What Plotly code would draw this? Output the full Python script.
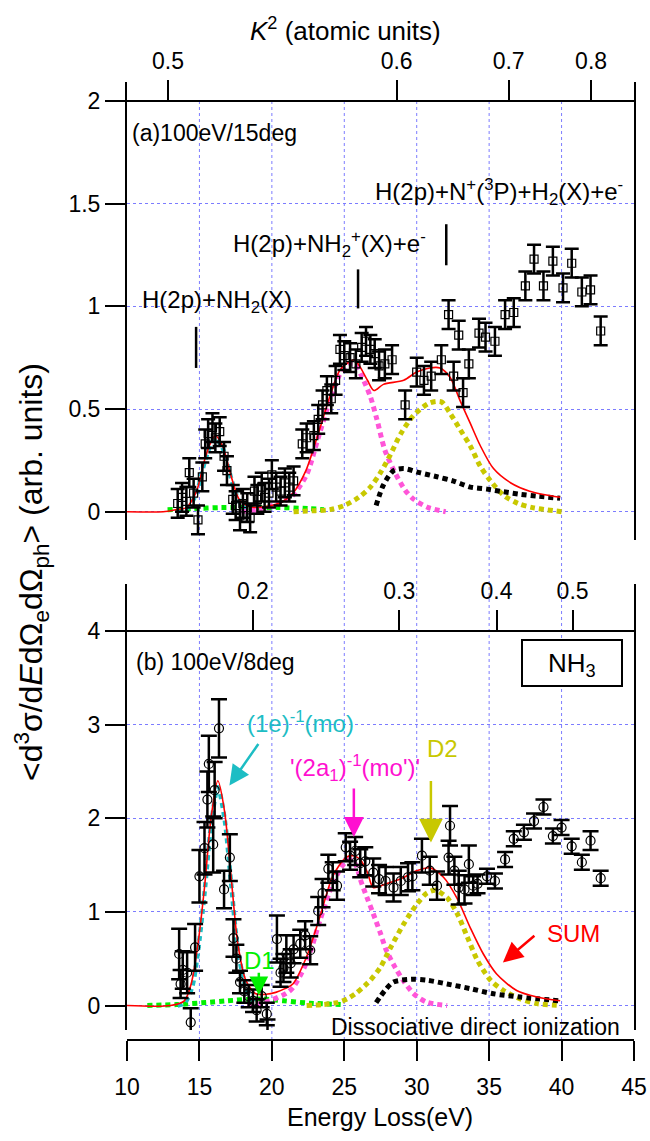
import numpy as np
import plotly.graph_objects as go

W, H = 650, 1141

# ---------------- panel (a) 100 eV / 15 deg : measured points ----------------
a_E = [13.5, 13.8, 14.1, 14.3, 14.6, 14.9, 15.2, 15.4, 15.6, 15.9, 16.1, 16.4, 16.7, 16.9,
       17.3, 17.5, 17.8, 18.0, 18.3, 18.5, 18.8, 19.0, 19.3, 19.5, 19.8, 20.0, 20.3, 20.6,
       20.9, 21.2, 21.5, 22.1, 22.4, 22.9, 23.2, 23.5, 23.8, 24.1, 24.4, 24.7, 25.0, 25.4,
       25.8, 26.2, 26.5, 26.8, 27.1, 27.4, 27.8, 28.3, 29.2, 30.0, 30.5, 31.0, 31.7, 32.2,
       32.55, 32.9, 33.2, 33.6, 34.3, 34.75, 35.4, 36.1, 36.7, 37.5, 38.1, 38.75, 39.4,
       40.1, 40.7, 41.4, 42.0, 42.7]
a_I = [0.04, 0.07, 0.05, 0.19, 0.09, -0.04, 0.17, 0.33, 0.38, 0.41, 0.36, 0.39, 0.27, 0.20,
       0.06, 0.03, -0.02, 0.04, 0.02, -0.03, 0.10, 0.06, 0.12, 0.07, 0.09, 0.18, 0.12, 0.10,
       0.14, 0.12, 0.15, 0.33, 0.36, 0.37, 0.45, 0.52, 0.59, 0.55, 0.64, 0.79, 0.76, 0.75,
       0.72, 0.80, 0.83, 0.79, 0.77, 0.71, 0.72, 0.74, 0.52, 0.68, 0.64, 0.66, 0.74, 0.96,
       0.66, 0.86, 0.58, 0.72, 0.87, 0.85, 0.83, 0.96, 0.97, 1.10, 1.23, 1.10, 1.22,
       1.09, 1.21, 1.07, 1.08, 0.88]
a_err = [0.07] * len(a_E)

# fitted curves, panel (a)
a_sum_E = [10.0, 12.5, 13.4, 14.1, 14.8, 15.35, 15.8, 16.1, 16.6, 17.2, 17.75, 18.4, 19.6, 20.75,
           21.45, 22.35, 23.2, 24.0, 24.7, 25.35, 25.7, 26.05, 26.6, 27.05, 27.7, 29.1, 30.0,
           30.9, 31.6, 32.3, 33.0, 33.7, 34.4, 35.3, 36.5, 37.8, 39.9]
a_sum_I = [0.0, 0.0, 0.01, 0.02, 0.10, 0.25, 0.34, 0.37, 0.32, 0.17, 0.06, 0.025, 0.025, 0.05,
           0.09, 0.20, 0.38, 0.56, 0.69, 0.73, 0.74, 0.71, 0.64, 0.59, 0.62, 0.64, 0.68,
           0.70, 0.70, 0.655, 0.54, 0.43, 0.32, 0.21, 0.14, 0.10, 0.07]
a_1e_E = [13.5, 14.2, 14.8, 15.35, 15.8, 16.1, 16.6, 17.2, 17.75, 18.3, 18.8]
a_1e_I = [0.0, 0.02, 0.09, 0.24, 0.33, 0.36, 0.31, 0.16, 0.05, 0.01, 0.0]
a_d1_E = [12.8, 14.5, 16.5, 18.5, 20.5, 22.5, 23.6]
a_d1_I = [0.01, 0.015, 0.02, 0.02, 0.02, 0.015, 0.01]
a_2a1_E = [17.9, 19.0, 20.0, 20.8, 21.45, 22.4, 23.2, 24.0, 24.7, 25.3, 25.7, 26.2, 26.8,
           27.25, 27.8, 28.5, 29.2, 29.8, 30.8, 32.0]
a_2a1_I = [0.0, 0.01, 0.03, 0.05, 0.08, 0.18, 0.36, 0.54, 0.67, 0.72, 0.72, 0.66, 0.56,
           0.45, 0.30, 0.19, 0.105, 0.06, 0.02, 0.0]
a_d2_E = [21.5, 23.0, 24.0, 25.0, 26.0, 26.8, 27.5, 28.2, 28.9, 29.8, 30.9, 31.7, 32.3, 33.0,
          33.7, 34.4, 35.1, 36.0, 37.0, 38.0, 40.0]
a_d2_I = [0.0, 0.005, 0.01, 0.03, 0.07, 0.12, 0.19, 0.28, 0.38, 0.47, 0.53, 0.535, 0.48, 0.40,
          0.32, 0.22, 0.15, 0.08, 0.04, 0.02, 0.0]
a_ddi_E = [27.2, 27.7, 28.4, 29.1, 30.2, 31.4, 32.5, 33.7, 34.85, 36.0, 37.15, 38.3, 39.9]
a_ddi_I = [0.03, 0.13, 0.20, 0.21, 0.19, 0.17, 0.15, 0.12, 0.11, 0.097, 0.085, 0.076, 0.065]

# dissociation thresholds marked in panel (a)
thr_E = [14.77, 25.95, 32.04]

# ---------------- panel (b) 100 eV / 8 deg : measured points ----------------
b_E = [13.6, 13.7, 13.85, 14.15, 14.4, 14.7, 15.0, 15.35, 15.55, 15.65, 15.95, 16.05, 16.35,
       16.7, 17.1, 17.35, 17.55, 17.8, 18.1, 18.4, 18.7, 18.95, 19.3, 19.65, 19.7, 20.35,
       20.6, 20.8, 21.0, 21.3, 21.5, 21.96, 22.3, 22.65, 23.2, 23.5, 23.9, 24.2, 24.5, 25.1,
       25.4, 25.75, 26.1, 26.45, 27.0, 27.4, 27.85, 28.4, 28.9, 29.4, 29.7, 30.36, 30.9,
       31.4, 32.2, 32.3, 32.6, 32.9, 33.3, 33.6, 33.9, 34.2, 34.85, 35.4, 36.1, 36.7, 37.4,
       38.1, 38.75, 39.4, 40.0, 40.7, 41.4, 42.0, 42.7]
b_I = [0.55, 0.23, 0.38, 0.35, -0.18, 0.62, 1.38, 1.68, 2.20, 2.58, 1.72, 2.30, 2.96,
       1.24, 1.58, 0.72, 0.50, 0.25, 0.15, 0.10, 0.05, -0.05, 0.10, -0.09, -0.27, 0.71,
       0.35, 0.40, 0.55, 0.45, 0.60, 0.66, 0.75, 0.59, 1.01, 1.20, 1.46, 1.38, 1.28, 1.69,
       1.60, 1.65, 1.52, 1.54, 1.42, 1.35, 1.33, 1.26, 1.33, 1.37, 1.38, 1.60, 1.44,
       1.28, 1.58, 1.92, 1.44, 1.26, 1.24, 1.51, 1.28, 1.30, 1.38, 1.33, 1.56, 1.78, 1.85,
       1.97, 2.12, 1.81, 1.90, 1.70, 1.53, 1.76, 1.36]
b_err = [0.27, 0.15, 0.20, 0.22, 0.15, 0.25, 0.28, 0.28, 0.30, 0.30, 0.30, 0.30, 0.31,
         0.20, 0.25, 0.20, 0.15, 0.12, 0.12, 0.12, 0.12, 0.12, 0.12, 0.12, 0.12, 0.25,
         0.15, 0.15, 0.20, 0.15, 0.15, 0.15, 0.15, 0.15, 0.15, 0.15, 0.15, 0.15, 0.15, 0.15,
         0.15, 0.15, 0.15, 0.15, 0.15, 0.15, 0.15, 0.15, 0.15, 0.15, 0.15, 0.18, 0.15,
         0.15, 0.18, 0.21, 0.15, 0.18, 0.15, 0.20, 0.10, 0.10, 0.08, 0.08, 0.08, 0.08, 0.08,
         0.08, 0.08, 0.08, 0.08, 0.08, 0.08, 0.10, 0.08]

# fitted curves, panel (b)
b_sum_E = [10.0, 13.0, 13.96, 14.43, 14.9, 15.35, 15.8, 16.27, 16.73, 17.19, 17.65, 18.2, 18.9,
           19.6, 20.27, 20.9, 21.45, 22.37, 23.3, 24.2, 25.1, 25.6, 26.1, 26.6, 27.0, 27.7,
           28.86, 30.0, 30.93, 31.85, 32.77, 33.7, 34.6, 35.5, 36.9, 38.3, 39.9]
b_sum_I = [0.0, 0.0, 0.05, 0.23, 0.66, 1.26, 2.00, 2.40, 2.08, 1.37, 0.66, 0.27, 0.125,
           0.12, 0.14, 0.18, 0.23, 0.51, 0.94, 1.38, 1.58, 1.60, 1.56, 1.42, 1.26, 1.29,
           1.35, 1.44, 1.47, 1.37, 1.15, 0.83, 0.55, 0.34, 0.16, 0.09, 0.05]
b_1e_E = [13.5, 14.0, 14.5, 14.9, 15.35, 15.8, 16.27, 16.73, 17.19, 17.65, 18.2, 18.7, 19.2]
b_1e_I = [0.0, 0.03, 0.20, 0.58, 1.20, 1.92, 2.33, 2.00, 1.30, 0.60, 0.20, 0.05, 0.0]
b_d1_E = [11.4, 13.4, 15.7, 16.9, 19.2, 20.8, 22.6, 24.9]
b_d1_I = [0.0, 0.01, 0.035, 0.05, 0.07, 0.05, 0.025, 0.01]
b_2a1_E = [18.3, 19.2, 20.0, 21.0, 21.45, 22.4, 23.3, 24.2, 25.0, 25.4, 25.8, 26.1, 26.55,
           27.0, 27.5, 27.9, 28.5, 29.1, 29.8, 30.7, 32.1]
b_2a1_I = [0.0, 0.02, 0.06, 0.13, 0.19, 0.46, 0.90, 1.30, 1.52, 1.56, 1.50, 1.35, 1.16,
           0.98, 0.77, 0.59, 0.41, 0.26, 0.125, 0.035, 0.0]
b_d2_E = [22.4, 23.5, 24.5, 25.2, 25.8, 26.4, 26.8, 27.5, 28.2, 29.1, 30.0, 30.7, 31.3, 32.1,
          32.8, 33.5, 34.2, 35.1, 36.0, 37.15, 38.3, 39.9]
b_d2_I = [0.0, 0.01, 0.03, 0.07, 0.13, 0.21, 0.27, 0.41, 0.62, 0.87, 1.08, 1.20, 1.23, 1.15,
          0.98, 0.73, 0.48, 0.27, 0.16, 0.07, 0.02, 0.0]
b_ddi_E = [27.2, 27.8, 28.4, 29.6, 30.7, 32.1, 33.7, 35.3, 37.15, 39.9]
b_ddi_I = [0.03, 0.16, 0.25, 0.28, 0.27, 0.23, 0.18, 0.125, 0.09, 0.05]

# axis ticks
E_ticks = [10, 15, 20, 25, 30, 35, 40, 45]
a_yticks = [0, 0.5, 1, 1.5, 2]
b_yticks = [0, 1, 2, 3, 4]
a_K2_ticks = [0.5, 0.6, 0.7, 0.8]
b_K2_ticks = [0.2, 0.3, 0.4, 0.5]
E0 = 100.0          # impact energy (eV)
theta_a, theta_b = 15.0, 8.0   # scattering angles (deg)


def K2_to_E(K2, theta_deg):
    """energy loss (eV) giving squared momentum transfer K2 (a.u.) at angle theta"""
    hartree = 27.2114
    k0 = np.sqrt(2 * E0 / hartree)
    th = np.radians(theta_deg)
    k1 = k0 * np.cos(th) - np.sqrt(K2 - (k0 * np.sin(th)) ** 2)
    return float(E0 - k1 ** 2 * hartree / 2)


# ---------------- geometry helpers (pixel -> paper) ----------------
def PX(x):
    return x / W


def PY(y):
    return 1 - y / H


XD = [PX(127), PX(634)]
a_ppu = (511.7 - 101) / 2.0
a_rng = [-(540 - 511.7) / a_ppu, 2 + (101 - 82) / a_ppu]
b_ppu = (1005.5 - 631) / 4.0
b_rng = [-(1030 - 1005.5) / b_ppu, 4 + (631 - 584) / b_ppu]

FONT = "Liberation Sans, Arial, sans-serif"
CYAN = "#1DBDC4"
GREEN = "#00F000"
PINK = "#FF55D8"
MAGENTA = "#FF10D0"
OLIVE = "#C8C800"
RED = "#FF0000"
GRID = "#7C7CFF"
DOT = "5px,4px"

fig = go.Figure()


def curve(x, y, color, ax, ay, width=5, dash=DOT):
    fig.add_trace(go.Scatter(x=x, y=y, mode="lines", xaxis=ax, yaxis=ay,
                             line=dict(color=color, width=width, dash=dash,
                                       shape="spline", smoothing=0.8),
                             hoverinfo="skip", showlegend=False))


# panel (a)
curve(a_d1_E, a_d1_I, GREEN, "x", "y")
curve(a_1e_E, a_1e_I, CYAN, "x", "y", width=4.5)
curve(a_2a1_E, a_2a1_I, PINK, "x", "y")
curve(a_d2_E, a_d2_I, OLIVE, "x", "y")
curve(a_ddi_E, a_ddi_I, "black", "x", "y")
curve(a_sum_E, a_sum_I, RED, "x", "y", width=1.6, dash="solid")
fig.add_trace(go.Scatter(x=a_E, y=a_I, mode="markers", xaxis="x", yaxis="y",
                         marker=dict(symbol="square-open", size=8, color="black",
                                     line=dict(width=1.2, color="black")),
                         error_y=dict(type="data", array=a_err, color="black",
                                      thickness=2.5, width=7),
                         cliponaxis=False, showlegend=False))

# panel (b)
curve(b_d1_E, b_d1_I, GREEN, "x2", "y2")
curve(b_1e_E, b_1e_I, CYAN, "x2", "y2", width=4.5)
curve(b_2a1_E, b_2a1_I, PINK, "x2", "y2")
curve(b_d2_E, b_d2_I, OLIVE, "x2", "y2")
curve(b_ddi_E, b_ddi_I, "black", "x2", "y2")
curve(b_sum_E, b_sum_I, RED, "x2", "y2", width=1.6, dash="solid")
fig.add_trace(go.Scatter(x=b_E, y=b_I, mode="markers", xaxis="x2", yaxis="y2",
                         marker=dict(symbol="circle-open", size=9, color="black",
                                     line=dict(width=1.2, color="black")),
                         error_y=dict(type="data", array=b_err, color="black",
                                      thickness=2.5, width=8),
                         cliponaxis=False, showlegend=False))

# invisible carriers so that the two K^2 axes are drawn
for xa, ya in (("x3", "y"), ("x4", "y2")):
    fig.add_trace(go.Scatter(x=[10, 45], y=[-50, -50], mode="markers", xaxis=xa, yaxis=ya,
                             marker=dict(opacity=0), hoverinfo="skip", showlegend=False))

tickfont = dict(family=FONT, size=23, color="black")
common_y = dict(ticks="outside", ticklen=20, tickwidth=2, tickcolor="black",
                showline=True, linewidth=2, linecolor="black", mirror=True,
                showgrid=True, gridcolor=GRID, griddash="dot", gridwidth=1,
                zeroline=False, tickfont=tickfont, automargin=False)
top_axis = dict(side="top", anchor="free", range=[10, 45], ticks="outside", ticklen=20,
                tickwidth=2, tickcolor="black", showline=True, linewidth=2,
                linecolor="black", showgrid=False, zeroline=False, tickfont=tickfont,
                automargin=False, ticklabelstandoff=2)

fig.update_layout(
    template="none",
    width=W, height=H, margin=dict(l=0, r=0, t=0, b=0, autoexpand=False),
    paper_bgcolor="white", plot_bgcolor="white", showlegend=False,
    font=dict(family=FONT, color="black"),
    xaxis=dict(domain=XD, range=[10, 45], anchor="y", showgrid=False, showline=False,
               showticklabels=False, ticks="", zeroline=False, automargin=False),
    yaxis=dict(domain=[PY(540), PY(82)], range=a_rng, anchor="x",
               tickvals=a_yticks, ticktext=[f"{v:g}" for v in a_yticks], **common_y),
    xaxis3=dict(overlaying="x", position=PY(101),
                tickvals=[K2_to_E(k, theta_a) for k in a_K2_ticks],
                ticktext=[f"{k:g}" for k in a_K2_ticks], **top_axis),
    xaxis2=dict(domain=XD, range=[10, 45], anchor="free", position=PY(1040),
                tickvals=E_ticks, ticktext=[str(v) for v in E_ticks],
                ticks="outside", ticklen=20, tickwidth=2, tickcolor="black",
                showline=True, linewidth=2, linecolor="black", showgrid=False,
                zeroline=False, tickfont=tickfont, ticklabelstandoff=6, automargin=False),
    yaxis2=dict(domain=[PY(1030), PY(584)], range=b_rng, anchor="x2",
                tickvals=b_yticks, ticktext=[str(v) for v in b_yticks], **common_y),
    xaxis4=dict(overlaying="x2", position=PY(631),
                tickvals=[K2_to_E(k, theta_b) for k in b_K2_ticks],
                ticktext=[f"{k:g}" for k in b_K2_ticks], **top_axis),
)

shapes = []
# vertical dotted grid running through both panels
for e in E_ticks[1:-1]:
    shapes.append(dict(type="line", xref="x2", yref="paper", x0=e, x1=e,
                       y0=PY(1040), y1=PY(101), layer="below",
                       line=dict(color=GRID, width=1, dash="dot")))
# threshold markers in panel (a)
for e, (y0, y1) in zip(thr_E, [(0.70, 0.90), (0.99, 1.18), (1.20, 1.40)]):
    shapes.append(dict(type="line", xref="x", yref="y", x0=e, x1=e, y0=y0, y1=y1,
                       line=dict(color="black", width=2.5)))
# NH3 box
shapes.append(dict(type="rect", xref="paper", yref="paper", x0=PX(522), x1=PX(622),
                   y0=PY(686), y1=PY(640), line=dict(color="black", width=2),
                   fillcolor="white"))
fig.update_layout(shapes=shapes)

ann = []


def text(s, x, y, size=23, color="black", xanchor="center", yanchor="middle", angle=0):
    ann.append(dict(text=s, x=PX(x), y=PY(y), xref="paper", yref="paper",
                    showarrow=False, xanchor=xanchor, yanchor=yanchor, textangle=angle,
                    font=dict(family=FONT, size=size, color=color)))


def arrow(x, y, ax, ay, color, xr, yr, size=1.6, width=2.5):
    ann.append(dict(text="", x=x, y=y, xref=xr, yref=yr, ax=ax, ay=ay, showarrow=True,
                    arrowhead=2, arrowsize=size, arrowwidth=width, arrowcolor=color,
                    standoff=0))


text("<i>K</i><sup>2</sup> (atomic units)", 346, 30, size=26)
text("(a)100eV/15deg", 130, 133, xanchor="left")
text("H(2p)+NH<sub>2</sub>(X)", 140, 302, size=24, xanchor="left")
text("H(2p)+NH<sub>2</sub><sup>+</sup>(X)+e<sup>-</sup>", 231, 244, size=24, xanchor="left")
text("H(2p)+N<sup>+</sup>(<sup>3</sup>P)+H<sub>2</sub>(X)+e<sup>-</sup>", 373, 192,
     size=24, xanchor="left")
text("(b) 100eV/8deg", 134, 662, xanchor="left")
text("NH<sub>3</sub>", 572, 664, size=26)
text("(1e)<sup>-1</sup>(mo)", 300, 722, size=24, color=CYAN)
text("'(2a<sub>1</sub>)<sup>-1</sup>(mo')'", 355, 768, size=24, color=MAGENTA)
text("D2", 442, 748, size=24, color=OLIVE)
text("SUM", 573, 933, size=24, color=RED)
text("D1", 259, 960, size=24, color=GREEN)
text("Dissociative direct ionization", 622, 1027, size=23, xanchor="right")
text("Energy Loss(eV)", 380, 1117, size=25)
text("&lt;d<sup>3</sup>σ/d<i>E</i>dΩ<sub>e</sub>dΩ<sub>ph</sub>&gt; (arb. units)", 31, 572,
     size=32, angle=-90)

arrow(17.07, 2.35, 30, -43, CYAN, "x2", "y2")
arrow(25.66, 1.80, 0, -50, MAGENTA, "x2", "y2")
arrow(30.98, 1.74, 0, -63, OLIVE, "x2", "y2", size=1.9)
arrow(35.95, 0.46, 33, -28, RED, "x2", "y2")
arrow(19.1, 0.11, 0, -24, GREEN, "x2", "y2", size=1.5)
fig.update_layout(annotations=ann)

# the page's default 8px body margin would shift the 650x1141 figure; remove it
fig.write_html("out.html", config={"displayModeBar": False},
               post_script="document.body.style.margin='0';")
